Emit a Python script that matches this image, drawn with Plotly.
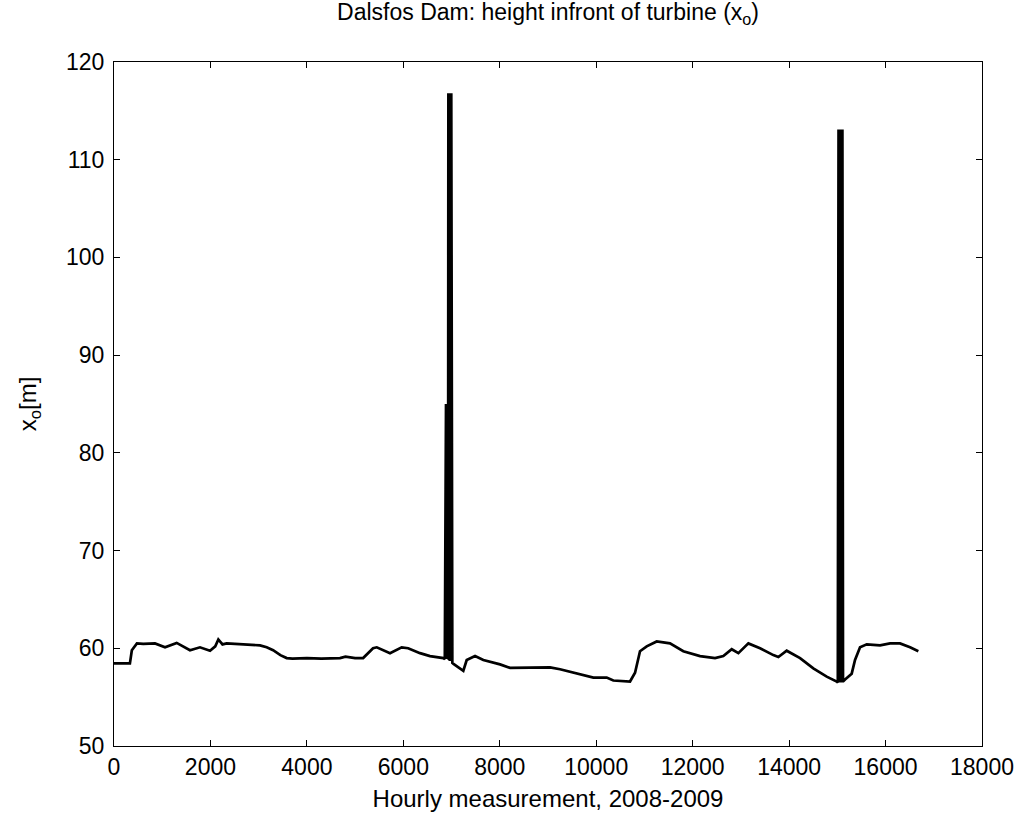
import plotly.graph_objects as go

# Baseline water level (hours, metres)
base_hours = [0, 330, 370, 475, 608, 850, 1058, 1300, 1576, 1783, 1991, 2100, 2164, 2250,
              2336, 2613, 3028, 3166, 3300, 3450, 3581, 3700, 4000, 4300, 4687, 4800, 5000,
              5167, 5250, 5372, 5450, 5724, 5966, 6100, 6346, 6553, 6830, 6860,
              7040, 7106, 7244, 7314, 7487, 7659, 8005, 8212, 8696, 9042, 9249, 9526, 9941,
              10217, 10355, 10701, 10805, 10908, 11047, 11254, 11530, 11806, 12153, 12464,
              12636, 12810, 12948, 13155, 13397, 13673, 13777, 13950, 14227, 14502, 14780,
              14988, 15010, 15160, 15298, 15367, 15471, 15610, 15886, 16093, 16300, 16508,
              16680]
base_level = [58.45, 58.45, 59.8, 60.5, 60.45, 60.5, 60.1, 60.55, 59.8, 60.1, 59.75, 60.2, 60.9,
              60.4, 60.5, 60.4, 60.3, 60.1, 59.8, 59.3, 59.0, 58.95, 59.0, 58.95, 59.0, 59.15,
              59.0, 59.0, 59.4, 60.0, 60.1, 59.5, 60.1, 60.0, 59.5, 59.2, 59.0, 58.9,
              58.4, 58.2, 57.7, 58.8, 59.2, 58.8, 58.35, 58.0, 58.0, 58.05, 57.85, 57.5, 57.0,
              57.0, 56.7, 56.6, 57.5, 59.7, 60.2, 60.7, 60.5, 59.7, 59.2, 59.0,
              59.2, 59.9, 59.5, 60.5, 60.0, 59.3, 59.1, 59.75, 59.0, 57.95, 57.1,
              56.6, 56.5, 56.8, 57.4, 58.8, 60.1, 60.4, 60.3, 60.5, 60.5, 60.1,
              59.7]

# Faulty readings around hour 7000 (alternating spikes)
spike1_hours = [6885, 6891, 6897, 6903, 6909, 6915, 6921, 6927, 6934, 6944, 6954, 6964, 6974, 6984, 6994, 7004, 7009, 7016]
spike1_level = [85.0, 58.9, 85.0, 58.9, 85.0, 58.9, 85.0, 58.9, 116.8, 58.8, 116.8, 58.7, 116.8, 58.7, 116.8, 58.6, 116.8, 58.5]

# Faulty readings around hour 15000
spike2_hours = [15025, 15035, 15045, 15055, 15065, 15075, 15085, 15095, 15105, 15118]
spike2_level = [113.1, 56.5, 113.1, 56.5, 113.1, 56.5, 113.1, 56.5, 113.1, 56.6]

x_ticks = [0, 2000, 4000, 6000, 8000, 10000, 12000, 14000, 16000, 18000]
y_ticks = [50, 60, 70, 80, 90, 100, 110, 120]

pts = sorted(zip(base_hours + spike1_hours + spike2_hours,
                 base_level + spike1_level + spike2_level))
xs = [p[0] for p in pts]
ys = [p[1] for p in pts]

FONT = "Liberation Sans"

fig = go.Figure()
fig.add_trace(go.Scatter(x=xs, y=ys, mode="lines",
                         line=dict(color="black", width=2.7),
                         showlegend=False, hoverinfo="skip"))

axis_common = dict(showline=True, linecolor="black", linewidth=1, mirror="ticks",
                   ticks="inside", ticklen=6, tickwidth=1, tickcolor="black",
                   showgrid=False, zeroline=False, automargin=False,
                   tickfont=dict(family=FONT, size=23, color="black"))

fig.update_layout(
    width=1019, height=819,
    margin=dict(l=114, r=37, t=62, b=73),
    paper_bgcolor="white", plot_bgcolor="white",
    title=dict(text="Dalsfos Dam: height infront of turbine (x<sub>o</sub>)",
               x=0.5, xref="paper", xanchor="center",
               y=1 - 4 / 819, yref="container", yanchor="top",
               font=dict(family=FONT, size=23, color="black")),
    xaxis=dict(range=[0, 18000], tickvals=x_ticks, ticktext=[str(v) for v in x_ticks],
               title=dict(text="Hourly measurement, 2008-2009", standoff=11,
                          font=dict(family=FONT, size=24, color="black")),
               **axis_common),
    yaxis=dict(range=[50, 120], tickvals=y_ticks, ticktext=[str(v) for v in y_ticks],
               ticklabelstandoff=4,
               title=dict(text="x<sub>o</sub>[m]", standoff=22,
                          font=dict(family=FONT, size=24, color="black")),
               **axis_common),
)

fig.write_html("out.html")
